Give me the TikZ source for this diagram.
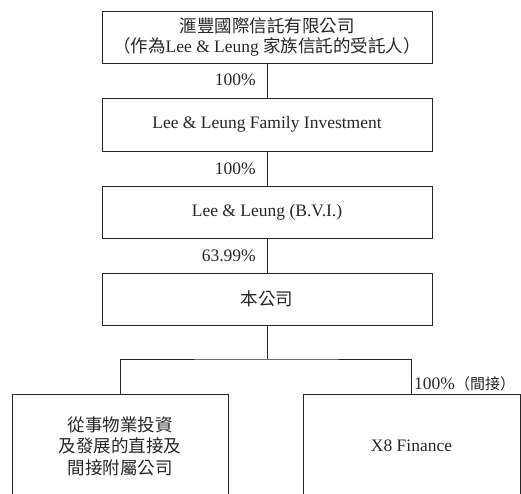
\documentclass[tikz,border=0pt]{standalone}
\usepackage{fontspec}
\setmainfont{Liberation Serif}
\newfontfamily\cjk{Noto Sans CJK TC}
\begin{document}
\begin{tikzpicture}[x=1pt,y=-1pt,font=\fontsize{17.5}{20}\selectfont,
  box/.style={draw=black!85,line width=0.9pt,text=black!85,align=center,inner sep=0pt},
  link/.style={draw=black!85,line width=0.9pt},
  pct/.style={text=black!85,inner sep=0pt}]
\useasboundingbox (0,0) rectangle (521,494);

\node[box,minimum width=330,minimum height=52] (trust) at (267,37)
  {{\cjk 滙豐國際信託有限公司}\\{\cjk （作為}Lee \& Leung {\cjk 家族信託的受託人）}};
\node[box,minimum width=330,minimum height=53] (fam) at (267,124.5) {Lee \& Leung Family Investment};
\node[box,minimum width=330,minimum height=52] (bvi) at (267,212) {Lee \& Leung (B.V.I.)};
\node[box,minimum width=330,minimum height=52] (co) at (267,299) {\cjk 本公司};
\node[box,minimum width=216,minimum height=104,font=\cjk\fontsize{17.5}{21.5}\selectfont] (sub) at (120,446)
  {從事物業投資\\及發展的直接及\\間接附屬公司};
\node[box,minimum width=217,minimum height=104] (x8) at (411.5,446) {X8 Finance};

\node[pct,anchor=east] (p1) at (256,80) {100\%};
\node[pct,anchor=east] (p2) at (256,169) {100\%};
\node[pct,anchor=east] (p3) at (256,256) {63.99\%};
\node[pct,anchor=west] (p4) at (414,384) {100\%{\cjk\fontsize{15}{20}\selectfont （間接）}};

\coordinate (split) at (267,359);
\draw[link] (trust) -- (fam);
\draw[link] (fam) -- (bvi);
\draw[link] (bvi) -- (co);
\draw[link] (co) -- (split);
\draw[link] (sub.north) |- (split) -| (x8.north);
\end{tikzpicture}
\end{document}
